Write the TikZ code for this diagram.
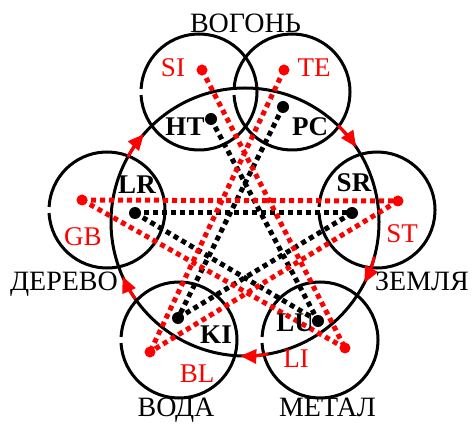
\documentclass[tikz,border=0pt]{standalone}
\usepackage{fontspec}
\setmainfont{Liberation Serif}
\usetikzlibrary{arrows.meta}
\definecolor{myred}{RGB}{255,0,0}
\begin{document}
\begin{tikzpicture}[x=1pt,y=1pt,
  elem/.style={line width=3pt,black},
  bigring/.style={line width=3pt,black},
  reddash/.style={myred,line width=5pt,dash pattern=on 5pt off 4pt},
  blackdash/.style={black,line width=5pt,dash pattern=on 5pt off 4pt},
  reddot/.style={circle,fill=myred,inner sep=0pt,minimum size=11pt},
  blackdot/.style={circle,fill=black,inner sep=0pt,minimum size=12pt},
  redlab/.style={text=myred,font=\fontsize{27}{29}\selectfont,inner sep=0pt},
  blacklab/.style={text=black,font=\fontsize{27}{29}\selectfont\bfseries,inner sep=0pt},
  namelab/.style={text=black,font=\fontsize{28}{30}\selectfont,inner sep=0pt,anchor=base},
  cyclearrow/.style={myred,line width=3pt,-{Triangle[length=16pt,width=14pt]}}
]
\useasboundingbox (0,0) rectangle (473,423);
% centres
\coordinate (C) at (245,201);
\coordinate (FL) at (199,331);
\coordinate (FR) at (292,331);
\coordinate (WO) at (107,213);
\coordinate (EA) at (377,213);
\coordinate (WA) at (179,83);
\coordinate (ME) at (320,83);
% big ring
\draw[bigring] (C) circle[radius=134];
% small circles (with a small gap on the left)
\foreach \c in {FL,FR,WO,EA,WA,ME}{
  \draw[elem] (\c) ++(183:58) arc[start angle=183,end angle=537,radius=58];
}
% points
\coordinate (SI) at (202,353);
\coordinate (TE) at (284,353);
\coordinate (HT) at (211,304);
\coordinate (PC) at (283,316);
\coordinate (GB) at (82,223);
\coordinate (LR) at (135,210);
\coordinate (ST) at (398,222);
\coordinate (SR) at (352,210);
\coordinate (KI) at (178,105);
\coordinate (BL) at (150,71);
\coordinate (LU) at (318,102);
\coordinate (LI) at (345,75);
% black pentagram
\draw[blackdash] (HT) -- (LU);
\draw[blackdash] (PC) -- (KI);
\draw[blackdash] (LR) -- (SR);
\draw[blackdash] (LR) -- (LU);
\draw[blackdash] (SR) -- (KI);
% red pentagram
\draw[reddash] (SI) -- (LI);
\draw[reddash] (TE) -- (BL);
\draw[reddash] (GB) -- (ST);
\draw[reddash] (GB) -- (LI);
\draw[reddash] (ST) -- (BL);
% dots
\foreach \p in {SI,TE,GB,ST,BL,LI}{ \node[reddot] (d\p) at (\p) {}; }
\foreach \p in {HT,PC,LR,SR,KI,LU}{ \node[blackdot] (d\p) at (\p) {}; }
% cycle arrows
\draw[cyclearrow] (C) ++(151:134) arc[start angle=151,end angle=139,radius=134];
\draw[cyclearrow] (C) ++(46:134) arc[start angle=46,end angle=34,radius=134];
\draw[cyclearrow] (C) ++(-15:134) arc[start angle=-15,end angle=-27,radius=134];
\draw[cyclearrow] (C) ++(280:134) arc[start angle=280,end angle=268,radius=134];
\draw[cyclearrow] (C) ++(215:134) arc[start angle=215,end angle=204,radius=134];
% labels
\node[redlab] (lSI) at (173,355) {SI};
\node[redlab] (lTE) at (314,355) {TE};
\node[blacklab] (lHT) at (185,296) {HT};
\node[blacklab] (lPC) at (310,296) {PC};
\node[blacklab] (lLR) at (137,238) {LR};
\node[redlab] (lGB) at (83,186) {GB};
\node[blacklab] (lSR) at (354,240) {SR};
\node[redlab] (lST) at (402,189) {ST};
\node[blacklab] (lKI) at (216,88) {KI};
\node[redlab] (lBL) at (197,49) {BL};
\node[blacklab] (lLU) at (295,100) {LU};
\node[redlab] (lLI) at (296,64) {LI};
% element names
\node[namelab] (nF) at (245.5,390) {ВОГОНЬ};
\node[namelab] (nW) at (64,133) {ДЕРЕВО};
\node[namelab] (nE) at (422,133) {ЗЕМЛЯ};
\node[namelab] (nWa) at (176,7) {ВОДА};
\node[namelab] (nM) at (327.5,7) {МЕТАЛ};
\end{tikzpicture}
\end{document}
